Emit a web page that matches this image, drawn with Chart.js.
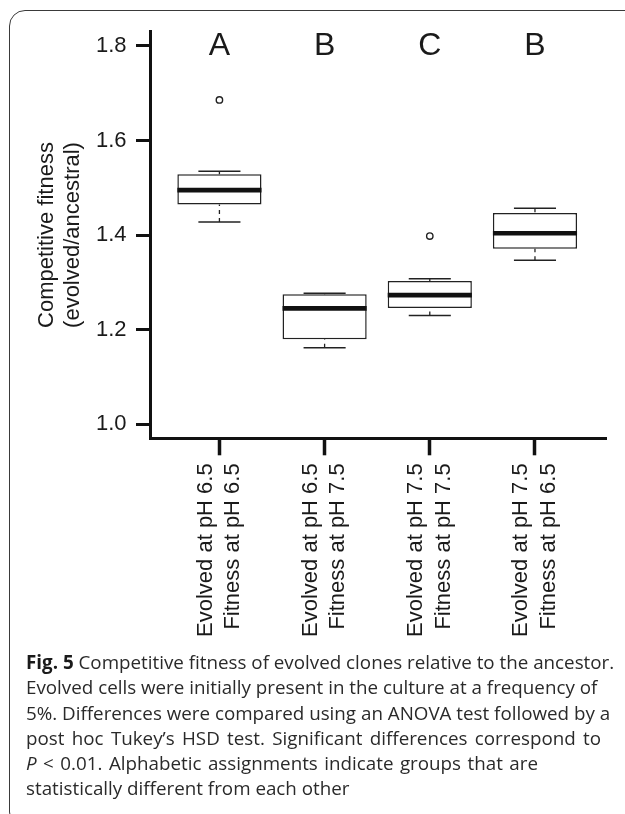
<!DOCTYPE html>
<html>
<head>
<meta charset="utf-8">
<script src="https://cdn.jsdelivr.net/npm/chart.js@4.4.1/dist/chart.umd.min.js"></script>
<style>
  html, body { margin: 0; padding: 0; background: #fff; }
  body { width: 625px; height: 814px; position: relative; overflow: hidden; }
  #card {
    position: absolute; left: 9px; top: 10px; width: 650px; height: 818px;
    border: 1.5px solid #3a3a3a; border-radius: 16px; box-sizing: border-box;
  }
  #plot { position: absolute; left: 0; top: 0; }
  #caption {
    position: absolute; left: 26px; top: 650px;
    font-family: "Open Sans", sans-serif; font-size: 18.8px; line-height: 25.3px;
    color: #2a2a2a;
  }
  #caption div { white-space: nowrap; }
  #caption .j { text-align: justify; text-align-last: justify; }
  #caption b { color: #1a1a1a; }
</style>
</head>
<body>
<div id="card"></div>
<canvas id="plot" width="625" height="650"></canvas>
<div id="caption">
  <div class="j" style="width:585px"><b>Fig. 5</b> Competitive fitness of evolved clones relative to the ancestor.</div>
  <div class="j" style="width:566px">Evolved cells were initially present in the culture at a frequency of</div>
  <div class="j" style="width:581px">5%. Differences were compared using an ANOVA test followed by a</div>
  <div class="j" style="width:575px">post hoc Tukey’s HSD test. Significant differences correspond to</div>
  <div class="j" style="width:512px"><i>P</i> &lt; 0.01. Alphabetic assignments indicate groups that are</div>
  <div>statistically different from each other</div>
</div>
<script>
// Treatment groups (x-axis labels, two lines each)
const categories = [
  ['Evolved at pH 6.5', 'Fitness at pH 6.5'],
  ['Evolved at pH 6.5', 'Fitness at pH 7.5'],
  ['Evolved at pH 7.5', 'Fitness at pH 7.5'],
  ['Evolved at pH 7.5', 'Fitness at pH 6.5']
];
// Tukey HSD grouping letters
const groupLetters = ['A', 'B', 'C', 'B'];

// Box-plot statistics per group (competitive fitness, evolved/ancestral)
const whiskerLow  = [1.428, 1.162, 1.230, 1.347];
const lowerQuart  = [1.465, 1.180, 1.246, 1.371];
const medians     = [1.495, 1.245, 1.273, 1.404];
const upperQuart  = [1.529, 1.275, 1.303, 1.447];
const whiskerHigh = [1.535, 1.277, 1.308, 1.457];

// Outlying points: group index and value
const outlierGroup = [0, 2];
const outlierValue = [1.686, 1.398];

// Axis ticks and range
const yTicks = [1.0, 1.2, 1.4, 1.6, 1.8];
const yRange = [0.9704, 1.8302];
const xRange = [0.34, 4.68];
const letterLevel = 1.8;

const INK = '#1a1a1a';
const FONT = '"Liberation Sans", Arial, Helvetica, sans-serif';

const xPos = categories.map((_, i) => i + 1);

// pixel half-width of a span of `units` on the x scale
function xUnits(ctx, units) {
  const s = ctx.chart.scales.x;
  if (!s) return 0;
  return Math.abs(s.getPixelForValue(1 + units) - s.getPixelForValue(1));
}

const boxData = xPos.map((x, i) => ({ x, y: [lowerQuart[i], upperQuart[i]] }));
const stemData = [];
xPos.forEach((x, i) => {
  stemData.push({ x, y: whiskerHigh[i] }, { x, y: upperQuart[i] }, { x, y: null });
  stemData.push({ x, y: whiskerLow[i] }, { x, y: lowerQuart[i] }, { x, y: null });
});
const capData = [];
xPos.forEach((x, i) => {
  capData.push({ x, y: whiskerLow[i] }, { x, y: whiskerHigh[i] });
});
const medianData = xPos.map((x, i) => ({ x, y: medians[i] }));
const outlierData = outlierGroup.map((g, k) => ({ x: xPos[g], y: outlierValue[k] }));

const letterPlugin = {
  id: 'groupLetters',
  afterDatasetsDraw(chart) {
    const { ctx, scales: { x, y } } = chart;
    ctx.save();
    ctx.font = '32px ' + FONT;
    ctx.fillStyle = INK;
    ctx.textAlign = 'center';
    ctx.textBaseline = 'middle';
    groupLetters.forEach((l, i) => {
      ctx.fillText(l, x.getPixelForValue(xPos[i]), y.getPixelForValue(letterLevel));
    });
    ctx.restore();
  }
};

new Chart(document.getElementById('plot'), {
  type: 'bar',
  data: {
    datasets: [
      {
        type: 'bar',
        data: boxData,
        backgroundColor: '#ffffff',
        borderColor: '#222222',
        borderWidth: 1.5,
        borderSkipped: false,
        categoryPercentage: 1,
        barPercentage: 0.8,
        order: 5
      },
      {
        type: 'line',
        data: stemData,
        borderColor: '#222222',
        borderWidth: 1.3,
        borderDash: [4, 4],
        pointRadius: 0,
        spanGaps: false,
        fill: false,
        order: 4
      },
      {
        type: 'scatter',
        data: capData,
        pointStyle: 'line',
        radius: (ctx) => xUnits(ctx, 0.2),
        borderWidth: 1.5,
        borderColor: '#222222',
        order: 3
      },
      {
        type: 'scatter',
        data: medianData,
        pointStyle: 'line',
        radius: (ctx) => xUnits(ctx, 0.4),
        borderWidth: 4.7,
        borderColor: '#111111',
        order: 2
      },
      {
        type: 'scatter',
        data: outlierData,
        pointStyle: 'circle',
        radius: 3.2,
        borderWidth: 1.4,
        borderColor: '#222222',
        backgroundColor: '#ffffff',
        order: 1
      }
    ]
  },
  options: {
    responsive: false,
    animation: false,
    events: [],
    layout: { padding: { left: 0, top: 31.7, right: 18.5, bottom: 0 } },
    plugins: { legend: { display: false }, tooltip: { enabled: false } },
    scales: {
      x: {
        type: 'linear',
        min: xRange[0],
        max: xRange[1],
        offset: false,
        afterBuildTicks: (s) => { s.ticks = xPos.map(v => ({ value: v })); },
        afterFit: (s) => { s.height = 650 - 438.3; },
        border: { display: true, color: '#111111', width: 3 },
        grid: {
          offset: false, drawOnChartArea: false, drawTicks: true,
          tickLength: 17, tickWidth: 3.5, tickColor: '#111111'
        },
        ticks: {
          autoSkip: false,
          minRotation: 90,
          maxRotation: 90,
          padding: 8,
          labelOffset: -13.75,
          color: INK,
          font: { family: FONT, size: 22, lineHeight: 1.25 },
          callback: (v) => categories[Math.round(v) - 1] || ''
        }
      },
      y: {
        type: 'linear',
        min: yRange[0],
        max: yRange[1],
        afterBuildTicks: (s) => { s.ticks = yTicks.map(v => ({ value: v })); },
        afterFit: (s) => { s.width = 150; },
        border: { display: true, color: '#111111', width: 3 },
        grid: {
          drawOnChartArea: false, drawTicks: true,
          tickLength: 14, tickWidth: 3, tickColor: '#111111'
        },
        ticks: {
          padding: 9.5,
          color: INK,
          font: { family: FONT, size: 22 },
          callback: (v) => Number(v).toFixed(1)
        },
        title: {
          display: true,
          text: ['Competitive fitness', '(evolved/ancestral)'],
          color: INK,
          font: { family: FONT, size: 22, lineHeight: 1.21 },
          padding: { top: 33.4, bottom: 0 }
        }
      }
    }
  },
  plugins: [letterPlugin]
});
</script>
</body>
</html>
